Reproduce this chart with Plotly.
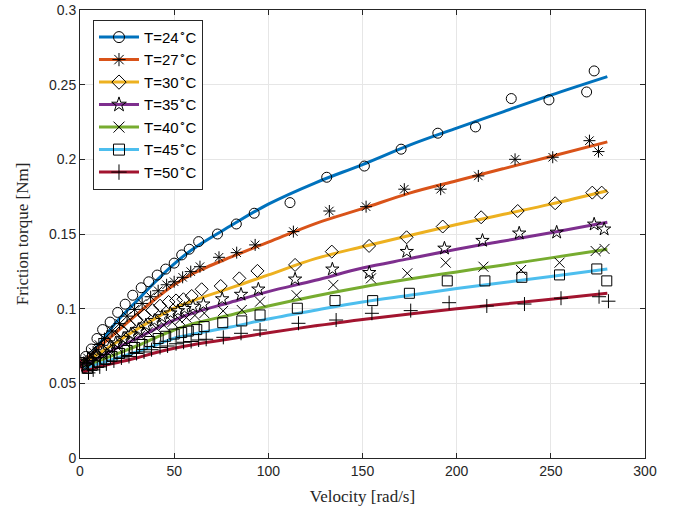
import plotly.graph_objects as go

# ---------------- data ----------------
labels = ["T=24<sup>∘</sup>C", "T=27<sup>∘</sup>C", "T=30<sup>∘</sup>C", "T=35<sup>∘</sup>C",
          "T=40<sup>∘</sup>C", "T=45<sup>∘</sup>C", "T=50<sup>∘</sup>C"]
colors = ["#0072BD", "#D95319", "#EDB120", "#7E2F8E", "#77AC30", "#4DBEEE", "#A2142F"]
symbols = ["circle-open", "asterisk-open", "diamond-open", "star-open",
           "x-thin-open", "square-open", "cross-thin-open"]

# fitted curves
fit_v = [0, 2, 5, 10, 20, 30, 40, 50, 60, 80, 100, 125, 150, 175, 200, 225, 250, 280]
fit_24 = [0.065, 0.065, 0.068, 0.076, 0.092, 0.105, 0.118, 0.130, 0.140, 0.1555, 0.170, 0.1843, 0.1965, 0.2095, 0.2209, 0.2320, 0.2430, 0.2554]
fit_27 = [0.066, 0.065, 0.068, 0.074, 0.085, 0.096, 0.1065, 0.1160, 0.1235, 0.1345, 0.1445, 0.1570, 0.1670, 0.1774, 0.1857, 0.1938, 0.2019, 0.2117]
fit_30 = [0.066, 0.064, 0.066, 0.070, 0.078, 0.086, 0.0935, 0.1003, 0.1054, 0.1139, 0.1226, 0.1335, 0.1415, 0.1490, 0.1564, 0.1632, 0.1700, 0.1790]
fit_35 = [0.066, 0.062, 0.064, 0.067, 0.074, 0.080, 0.0865, 0.0924, 0.0971, 0.1043, 0.1114, 0.1190, 0.1272, 0.1335, 0.1398, 0.1453, 0.1509, 0.1578]
fit_40 = [0.066, 0.061, 0.062, 0.065, 0.070, 0.075, 0.0805, 0.0857, 0.0900, 0.0958, 0.1018, 0.1085, 0.1145, 0.1198, 0.1246, 0.1293, 0.1340, 0.1398]
fit_45 = [0.066, 0.060, 0.061, 0.063, 0.067, 0.071, 0.0755, 0.0802, 0.0830, 0.0877, 0.0931, 0.0990, 0.1045, 0.1090, 0.1135, 0.1175, 0.1216, 0.1266]
fit_50 = [0.066, 0.058, 0.059, 0.061, 0.064, 0.067, 0.0705, 0.0735, 0.0759, 0.0798, 0.0839, 0.0885, 0.0928, 0.0965, 0.0999, 0.1031, 0.1063, 0.1103]

# measured points
v_24 = [1, 3, 6, 9, 12, 16, 20, 24, 28, 32.5, 36.5, 41, 45.5, 50, 54, 58, 63, 73, 83, 92.5,
        111.5, 131, 151, 170.5, 190, 210, 229, 249, 269, 273]
t_24 = [0.064, 0.068, 0.073, 0.080, 0.086, 0.091, 0.0975, 0.103, 0.109, 0.114, 0.118, 0.1225,
        0.1265, 0.1305, 0.136, 0.1398, 0.1449, 0.150, 0.1567, 0.1639, 0.171, 0.188, 0.1955,
        0.2068, 0.2175, 0.2217, 0.2407, 0.2398, 0.2451, 0.2592]
v_27 = [2, 4, 7, 10, 13, 17, 21, 25, 29, 33, 37.5, 41.5, 46, 50, 54.5, 58.8, 63.7, 73.8, 83.2, 93,
        113.3, 132.4, 151.9, 172.2, 191.5, 211.5, 231, 251, 270.5, 275.3]
t_27 = [0.064, 0.067, 0.071, 0.076, 0.080, 0.085, 0.090, 0.095, 0.0995, 0.1035, 0.108, 0.112,
        0.116, 0.118, 0.121, 0.1248, 0.1281, 0.1344, 0.1375, 0.1427, 0.1516, 0.1654, 0.1683,
        0.180, 0.180, 0.1889, 0.200, 0.2014, 0.2125, 0.2052]
v_30 = [2.5, 5, 8, 11, 14.5, 18, 22, 26, 30, 34, 38.5, 42.5, 47, 51, 54.9, 59.3, 64.6, 74.7, 84.6, 94.2,
        114.2, 133.7, 153.5, 173.4, 192.6, 213, 232.4, 252.3, 272, 277]
t_30 = [0.063, 0.066, 0.070, 0.073, 0.077, 0.081, 0.085, 0.089, 0.0925, 0.0955, 0.099, 0.102,
        0.1045, 0.1055, 0.1063, 0.1085, 0.113, 0.1152, 0.1203, 0.1253, 0.1293, 0.1382, 0.142,
        0.1478, 0.155, 0.1612, 0.1654, 0.1706, 0.1777, 0.1777]
v_35 = [3, 5.5, 8.5, 12, 15.5, 19, 23, 27, 31, 35, 39.5, 43.5, 48, 52, 55.5, 60, 65.5, 75.5, 85.5, 94.7,
        114.2, 134, 153.6, 173.5, 193.5, 213.7, 233.2, 253.1, 273, 278.3]
t_35 = [0.062, 0.065, 0.068, 0.071, 0.074, 0.077, 0.080, 0.083, 0.086, 0.089, 0.092, 0.0945,
        0.097, 0.0985, 0.100, 0.1015, 0.103, 0.1065, 0.1095, 0.113, 0.1197, 0.1264, 0.1241,
        0.1382, 0.1404, 0.1456, 0.1505, 0.1511, 0.1565, 0.1532]
v_40 = [3.5, 6, 9, 12.5, 16, 20, 24, 28, 32, 36, 40.5, 44.5, 49, 53, 56.5, 61, 66, 76, 85.9, 95.6,
        115, 134.5, 154.5, 173.8, 194.2, 214.2, 234.2, 254.6, 273.8, 278.5]
t_40 = [0.061, 0.063, 0.066, 0.068, 0.071, 0.074, 0.077, 0.0795, 0.082, 0.0845, 0.087, 0.089,
        0.091, 0.0925, 0.094, 0.0955, 0.097, 0.0985, 0.0991, 0.1047, 0.109, 0.1159, 0.1203,
        0.1237, 0.1308, 0.1281, 0.1259, 0.1308, 0.1386, 0.140]
v_45 = [4, 6.5, 10, 13.5, 17, 21, 25, 29, 33, 37, 41.5, 45.5, 50, 54, 57.5, 62, 65.9, 75.8, 85.9, 95.6,
        115.4, 135.4, 155.4, 174.9, 195, 215, 234.6, 254.6, 274.4, 279.7]
t_45 = [0.060, 0.062, 0.064, 0.066, 0.068, 0.070, 0.072, 0.074, 0.076, 0.078, 0.080, 0.0815,
        0.083, 0.084, 0.085, 0.086, 0.088, 0.0906, 0.0918, 0.0958, 0.1003, 0.1054, 0.1054,
        0.1103, 0.1186, 0.1186, 0.121, 0.1226, 0.1266, 0.1186]
v_50 = [4.5, 7, 10.5, 14, 18, 22, 26, 30, 34, 38, 42.5, 46.5, 51, 55, 59, 63, 67, 76.1, 85.5, 95.6,
        116, 136, 155, 175.6, 196, 216, 236, 255.4, 275.6, 280.6]
t_50 = [0.057, 0.059, 0.061, 0.063, 0.065, 0.067, 0.068, 0.070, 0.071, 0.0725, 0.074, 0.075,
        0.0765, 0.0775, 0.078, 0.079, 0.0795, 0.0808, 0.0835, 0.0857, 0.0902, 0.0924, 0.0969,
        0.0987, 0.104, 0.1018, 0.1031, 0.107, 0.108, 0.105]

fits = [fit_24, fit_27, fit_30, fit_35, fit_40, fit_45, fit_50]
meas_v = [v_24, v_27, v_30, v_35, v_40, v_45, v_50]
meas_t = [t_24, t_27, t_30, t_35, t_40, t_45, t_50]

x_ticks = [0, 50, 100, 150, 200, 250, 300]
y_ticks = [0, 0.05, 0.1, 0.15, 0.2, 0.25, 0.3]
y_ticktext = ["0", "0.05", "0.1", "0.15", "0.2", "0.25", "0.3"]

SANS = "Liberation Sans"
SERIF = "Liberation Serif"

# ---------------- figure ----------------
fig = go.Figure()
for i in range(7):
    fig.add_trace(go.Scatter(x=fit_v, y=fits[i], mode="lines",
                             line=dict(color=colors[i], width=3, shape="spline", smoothing=1.0),
                             showlegend=False, hoverinfo="skip"))
for i in range(7):
    fig.add_trace(go.Scatter(x=meas_v[i], y=meas_t[i], mode="markers",
                             marker=dict(symbol=symbols[i], size=10, color="black",
                                         line=dict(color="black", width=1)),
                             showlegend=False))
for i in range(7):
    fig.add_trace(go.Scatter(x=[None], y=[None], mode="lines+markers", name=labels[i],
                             line=dict(color=colors[i], width=3),
                             marker=dict(symbol=symbols[i], size=11, color="black",
                                         line=dict(color="black", width=1))))

axis_common = dict(showgrid=True, gridcolor="#e6e6e6", gridwidth=1,
                   showline=True, linecolor="#262626", linewidth=1, mirror="ticks",
                   ticks="inside", ticklen=5, tickcolor="#262626",
                   zeroline=False, automargin=False,
                   tickfont=dict(family=SANS, size=14, color="#262626"))

fig.update_xaxes(range=[0, 300], tickvals=x_ticks,
                 title=dict(text="Velocity [rad/s]", standoff=12,
                            font=dict(family=SERIF, size=17, color="#262626")),
                 **axis_common)
fig.update_yaxes(range=[0, 0.3], tickvals=y_ticks, ticktext=y_ticktext,
                 title=dict(text="Friction torque [Nm]", standoff=16,
                            font=dict(family=SERIF, size=17, color="#262626")),
                 **axis_common)

fig.update_layout(
    width=688, height=513,
    margin=dict(l=80, r=43, t=10, b=55),
    paper_bgcolor="white", plot_bgcolor="white",
    legend=dict(x=0.023, y=0.978, xanchor="left", yanchor="top",
                bgcolor="white", bordercolor="#262626", borderwidth=1,
                font=dict(family=SANS, size=15, color="black"),
                tracegroupgap=0, itemwidth=40),
    showlegend=True,
)

fig.write_html("out.html")
